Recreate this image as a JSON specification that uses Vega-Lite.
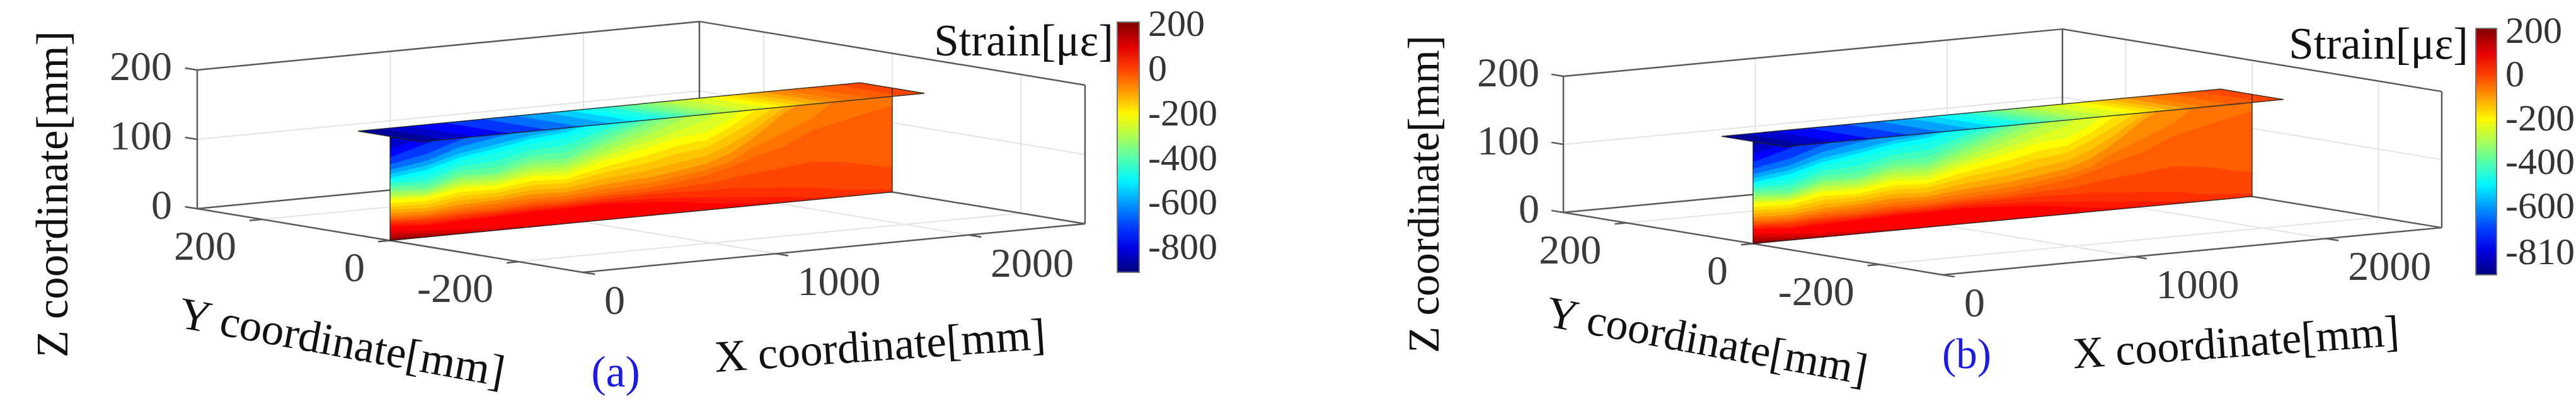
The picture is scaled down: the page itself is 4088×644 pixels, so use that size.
{"$schema":"https://vega.github.io/schema/vega-lite/v6.json","padding":0,"background":"white","spacing":0,"resolve":{"scale":{"fill":"independent"},"legend":{"fill":"independent"}},"config":{"view":{"stroke":null},"text":{"font":"Liberation Serif"},"legend":{"titleFont":"Liberation Serif","labelFont":"Liberation Serif"}},
"datasets":{"g":[
{"kind":"grid","id":"g1","o":1,"X":1000,"Y":-300,"Z":0},{"kind":"grid","id":"g1","o":2,"X":1000,"Y":300,"Z":0},
{"kind":"grid","id":"g2","o":1,"X":2000,"Y":-300,"Z":0},{"kind":"grid","id":"g2","o":2,"X":2000,"Y":300,"Z":0},
{"kind":"grid","id":"g3","o":1,"X":0,"Y":200,"Z":0},{"kind":"grid","id":"g3","o":2,"X":2600,"Y":200,"Z":0},
{"kind":"grid","id":"g4","o":1,"X":0,"Y":0,"Z":0},{"kind":"grid","id":"g4","o":2,"X":2600,"Y":0,"Z":0},
{"kind":"grid","id":"g5","o":1,"X":0,"Y":-200,"Z":0},{"kind":"grid","id":"g5","o":2,"X":2600,"Y":-200,"Z":0},
{"kind":"grid","id":"g6","o":1,"X":1000,"Y":300,"Z":0},{"kind":"grid","id":"g6","o":2,"X":1000,"Y":300,"Z":200},
{"kind":"grid","id":"g7","o":1,"X":2000,"Y":300,"Z":0},{"kind":"grid","id":"g7","o":2,"X":2000,"Y":300,"Z":200},
{"kind":"grid","id":"g8","o":1,"X":0,"Y":300,"Z":100},{"kind":"grid","id":"g8","o":2,"X":2600,"Y":300,"Z":100},
{"kind":"grid","id":"g9","o":1,"X":2600,"Y":200,"Z":0},{"kind":"grid","id":"g9","o":2,"X":2600,"Y":200,"Z":200},
{"kind":"grid","id":"g10","o":1,"X":2600,"Y":0,"Z":0},{"kind":"grid","id":"g10","o":2,"X":2600,"Y":0,"Z":200},
{"kind":"grid","id":"g11","o":1,"X":2600,"Y":-200,"Z":0},{"kind":"grid","id":"g11","o":2,"X":2600,"Y":-200,"Z":200},
{"kind":"grid","id":"g12","o":1,"X":2600,"Y":300,"Z":100},{"kind":"grid","id":"g12","o":2,"X":2600,"Y":-300,"Z":100},
{"kind":"box","id":"b1","o":1,"X":0,"Y":300,"Z":0},{"kind":"box","id":"b1","o":2,"X":0,"Y":300,"Z":200},
{"kind":"box","id":"b2","o":1,"X":0,"Y":300,"Z":0},{"kind":"box","id":"b2","o":2,"X":0,"Y":-300,"Z":0},
{"kind":"box","id":"b3","o":1,"X":0,"Y":-300,"Z":0},{"kind":"box","id":"b3","o":2,"X":2600,"Y":-300,"Z":0},
{"kind":"box","id":"b4","o":1,"X":2600,"Y":-300,"Z":0},{"kind":"box","id":"b4","o":2,"X":2600,"Y":-300,"Z":200},
{"kind":"box","id":"b5","o":1,"X":0,"Y":300,"Z":0},{"kind":"box","id":"b5","o":2,"X":2600,"Y":300,"Z":0},
{"kind":"box","id":"b6","o":1,"X":2600,"Y":300,"Z":0},{"kind":"box","id":"b6","o":2,"X":2600,"Y":-300,"Z":0},
{"kind":"box","id":"b7","o":1,"X":0,"Y":300,"Z":200},{"kind":"box","id":"b7","o":2,"X":2600,"Y":300,"Z":200},
{"kind":"box","id":"b8","o":1,"X":2600,"Y":300,"Z":200},{"kind":"box","id":"b8","o":2,"X":2600,"Y":-300,"Z":200},
{"kind":"box","id":"b9","o":1,"X":2600,"Y":300,"Z":0},{"kind":"box","id":"b9","o":2,"X":2600,"Y":300,"Z":200},
{"kind":"box","id":"t1","o":1,"X":0,"Y":300,"Z":0},{"kind":"box","id":"t1","o":2,"X":0,"Y":319,"Z":0},
{"kind":"box","id":"t2","o":1,"X":0,"Y":300,"Z":100},{"kind":"box","id":"t2","o":2,"X":0,"Y":319,"Z":100},
{"kind":"box","id":"t3","o":1,"X":0,"Y":300,"Z":200},{"kind":"box","id":"t3","o":2,"X":0,"Y":319,"Z":200},
{"kind":"box","id":"t4","o":1,"X":0,"Y":200,"Z":0},{"kind":"box","id":"t4","o":2,"X":-62,"Y":200,"Z":0},
{"kind":"box","id":"t5","o":1,"X":0,"Y":0,"Z":0},{"kind":"box","id":"t5","o":2,"X":-62,"Y":0,"Z":0},
{"kind":"box","id":"t6","o":1,"X":0,"Y":-200,"Z":0},{"kind":"box","id":"t6","o":2,"X":-62,"Y":-200,"Z":0},
{"kind":"box","id":"t7","o":1,"X":0,"Y":-300,"Z":0},{"kind":"box","id":"t7","o":2,"X":0,"Y":-319,"Z":0},
{"kind":"box","id":"t8","o":1,"X":1000,"Y":-300,"Z":0},{"kind":"box","id":"t8","o":2,"X":1000,"Y":-319,"Z":0},
{"kind":"box","id":"t9","o":1,"X":2000,"Y":-300,"Z":0},{"kind":"box","id":"t9","o":2,"X":2000,"Y":-319,"Z":0},
{"kind":"edge","id":"e1","o":1,"X":0,"Y":0,"Z":0},{"kind":"edge","id":"e1","o":2,"X":2600,"Y":0,"Z":0},{"kind":"edge","id":"e1","o":3,"X":2600,"Y":0,"Z":150},
{"kind":"edge","id":"e2","o":1,"X":0,"Y":0,"Z":0},{"kind":"edge","id":"e2","o":2,"X":0,"Y":0,"Z":150},
{"kind":"edge","id":"e3","o":1,"X":0,"Y":50,"Z":150},{"kind":"edge","id":"e3","o":2,"X":2600,"Y":50,"Z":150},{"kind":"edge","id":"e3","o":3,"X":2600,"Y":-50,"Z":150},{"kind":"edge","id":"e3","o":4,"X":0,"Y":-50,"Z":150},{"kind":"edge","id":"e3","o":5,"X":0,"Y":50,"Z":150},
{"kind":"xlab","label":"0","X":0,"Y":-300,"Z":0},{"kind":"xlab","label":"1000","X":1000,"Y":-300,"Z":0},{"kind":"xlab","label":"2000","X":2000,"Y":-300,"Z":0},
{"kind":"ylab","label":"200","X":0,"Y":200,"Z":0},{"kind":"ylab","label":"0","X":0,"Y":0,"Z":0},{"kind":"ylab","label":"-200","X":0,"Y":-200,"Z":0},
{"kind":"zlab","label":"0","X":0,"Y":300,"Z":0},{"kind":"zlab","label":"100","X":0,"Y":300,"Z":100},{"kind":"zlab","label":"200","X":0,"Y":300,"Z":200},
{"kind":"xtitle","label":"X coordinate[mm]","X":1300,"Y":-300,"Z":0},{"kind":"ytitle","label":"Y coordinate[mm]","X":0,"Y":0,"Z":0},{"kind":"ztitle","label":"Z coordinate[mm]","X":0,"Y":300,"Z":100},
{"kind":"ctitle","label":"Strain[με]","X":2600,"Y":-300,"Z":200},
{"kind":"taga","label":"(a)","X":0,"Y":-300,"Z":0},{"kind":"tagb","label":"(b)","X":0,"Y":-300,"Z":0},
{"kind":"web","strain":-880,"X":0,"Z":150},{"kind":"web","strain":-880,"X":2600,"Z":150},
{"kind":"web","strain":-830,"X":0,"Z":145},{"kind":"web","strain":-830,"X":190,"Z":150},{"kind":"web","strain":-830,"X":2600,"Z":150},
{"kind":"web","strain":-770,"X":0,"Z":132},{"kind":"web","strain":-770,"X":190,"Z":145},{"kind":"web","strain":-770,"X":360,"Z":150},{"kind":"web","strain":-770,"X":2600,"Z":150},
{"kind":"web","strain":-710,"X":0,"Z":120},{"kind":"web","strain":-710,"X":190,"Z":135},{"kind":"web","strain":-710,"X":360,"Z":150},{"kind":"web","strain":-710,"X":2600,"Z":150},
{"kind":"web","strain":-650,"X":0,"Z":110},{"kind":"web","strain":-650,"X":190,"Z":120},{"kind":"web","strain":-650,"X":360,"Z":135},{"kind":"web","strain":-650,"X":550,"Z":145},{"kind":"web","strain":-650,"X":730,"Z":150},{"kind":"web","strain":-650,"X":2600,"Z":150},
{"kind":"web","strain":-590,"X":0,"Z":102},{"kind":"web","strain":-590,"X":190,"Z":110},{"kind":"web","strain":-590,"X":360,"Z":125},{"kind":"web","strain":-590,"X":550,"Z":134},{"kind":"web","strain":-590,"X":730,"Z":140},{"kind":"web","strain":-590,"X":910,"Z":146},{"kind":"web","strain":-590,"X":1000,"Z":150},{"kind":"web","strain":-590,"X":2600,"Z":150},
{"kind":"web","strain":-540,"X":0,"Z":96},{"kind":"web","strain":-540,"X":190,"Z":103},{"kind":"web","strain":-540,"X":360,"Z":116},{"kind":"web","strain":-540,"X":550,"Z":124},{"kind":"web","strain":-540,"X":730,"Z":132},{"kind":"web","strain":-540,"X":910,"Z":136},{"kind":"web","strain":-540,"X":1110,"Z":148},{"kind":"web","strain":-540,"X":1180,"Z":150},{"kind":"web","strain":-540,"X":2600,"Z":150},
{"kind":"web","strain":-489,"X":0,"Z":90},{"kind":"web","strain":-489,"X":190,"Z":97},{"kind":"web","strain":-489,"X":360,"Z":110},{"kind":"web","strain":-489,"X":550,"Z":118},{"kind":"web","strain":-489,"X":730,"Z":127},{"kind":"web","strain":-489,"X":910,"Z":131},{"kind":"web","strain":-489,"X":1110,"Z":145},{"kind":"web","strain":-489,"X":1250,"Z":150},{"kind":"web","strain":-489,"X":2600,"Z":150},
{"kind":"web","strain":-460,"X":0,"Z":87},{"kind":"web","strain":-460,"X":190,"Z":90},{"kind":"web","strain":-460,"X":360,"Z":105},{"kind":"web","strain":-460,"X":550,"Z":112},{"kind":"web","strain":-460,"X":730,"Z":120},{"kind":"web","strain":-460,"X":910,"Z":124},{"kind":"web","strain":-460,"X":1110,"Z":139},{"kind":"web","strain":-460,"X":1290,"Z":150},{"kind":"web","strain":-460,"X":2600,"Z":150},
{"kind":"web","strain":-420,"X":0,"Z":82},{"kind":"web","strain":-420,"X":190,"Z":82},{"kind":"web","strain":-420,"X":360,"Z":97},{"kind":"web","strain":-420,"X":550,"Z":100},{"kind":"web","strain":-420,"X":730,"Z":111},{"kind":"web","strain":-420,"X":910,"Z":113},{"kind":"web","strain":-420,"X":1110,"Z":130},{"kind":"web","strain":-420,"X":1340,"Z":146},{"kind":"web","strain":-420,"X":1380,"Z":150},{"kind":"web","strain":-420,"X":2600,"Z":150},
{"kind":"web","strain":-385,"X":0,"Z":78},{"kind":"web","strain":-385,"X":190,"Z":76},{"kind":"web","strain":-385,"X":360,"Z":90},{"kind":"web","strain":-385,"X":550,"Z":91},{"kind":"web","strain":-385,"X":730,"Z":103},{"kind":"web","strain":-385,"X":910,"Z":103},{"kind":"web","strain":-385,"X":1110,"Z":122},{"kind":"web","strain":-385,"X":1340,"Z":140},{"kind":"web","strain":-385,"X":1430,"Z":150},{"kind":"web","strain":-385,"X":2600,"Z":150},
{"kind":"web","strain":-349,"X":0,"Z":74},{"kind":"web","strain":-349,"X":190,"Z":70},{"kind":"web","strain":-349,"X":360,"Z":84},{"kind":"web","strain":-349,"X":550,"Z":83},{"kind":"web","strain":-349,"X":730,"Z":96},{"kind":"web","strain":-349,"X":910,"Z":94},{"kind":"web","strain":-349,"X":1110,"Z":114},{"kind":"web","strain":-349,"X":1340,"Z":135},{"kind":"web","strain":-349,"X":1480,"Z":150},{"kind":"web","strain":-349,"X":2600,"Z":150},
{"kind":"web","strain":-315,"X":0,"Z":70},{"kind":"web","strain":-315,"X":190,"Z":67},{"kind":"web","strain":-315,"X":360,"Z":80},{"kind":"web","strain":-315,"X":550,"Z":79},{"kind":"web","strain":-315,"X":730,"Z":90},{"kind":"web","strain":-315,"X":910,"Z":88},{"kind":"web","strain":-315,"X":1110,"Z":107},{"kind":"web","strain":-315,"X":1340,"Z":126},{"kind":"web","strain":-315,"X":1480,"Z":141},{"kind":"web","strain":-315,"X":1560,"Z":150},{"kind":"web","strain":-315,"X":2600,"Z":150},
{"kind":"web","strain":-280,"X":0,"Z":66},{"kind":"web","strain":-280,"X":190,"Z":63},{"kind":"web","strain":-280,"X":360,"Z":75},{"kind":"web","strain":-280,"X":550,"Z":74},{"kind":"web","strain":-280,"X":730,"Z":84},{"kind":"web","strain":-280,"X":910,"Z":82},{"kind":"web","strain":-280,"X":1110,"Z":99},{"kind":"web","strain":-280,"X":1340,"Z":117},{"kind":"web","strain":-280,"X":1480,"Z":130},{"kind":"web","strain":-280,"X":1640,"Z":150},{"kind":"web","strain":-280,"X":2600,"Z":150},
{"kind":"web","strain":-245,"X":0,"Z":62},{"kind":"web","strain":-245,"X":190,"Z":60},{"kind":"web","strain":-245,"X":360,"Z":70},{"kind":"web","strain":-245,"X":550,"Z":69},{"kind":"web","strain":-245,"X":730,"Z":78},{"kind":"web","strain":-245,"X":910,"Z":76},{"kind":"web","strain":-245,"X":1110,"Z":92},{"kind":"web","strain":-245,"X":1340,"Z":107},{"kind":"web","strain":-245,"X":1480,"Z":118},{"kind":"web","strain":-245,"X":1640,"Z":130},{"kind":"web","strain":-245,"X":1760,"Z":150},{"kind":"web","strain":-245,"X":2600,"Z":150},
{"kind":"web","strain":-209,"X":0,"Z":59},{"kind":"web","strain":-209,"X":190,"Z":57},{"kind":"web","strain":-209,"X":360,"Z":66},{"kind":"web","strain":-209,"X":550,"Z":65},{"kind":"web","strain":-209,"X":730,"Z":73},{"kind":"web","strain":-209,"X":910,"Z":70},{"kind":"web","strain":-209,"X":1110,"Z":85},{"kind":"web","strain":-209,"X":1340,"Z":98},{"kind":"web","strain":-209,"X":1480,"Z":108},{"kind":"web","strain":-209,"X":1640,"Z":112},{"kind":"web","strain":-209,"X":1760,"Z":127},{"kind":"web","strain":-209,"X":1870,"Z":148},{"kind":"web","strain":-209,"X":1900,"Z":150},{"kind":"web","strain":-209,"X":2600,"Z":150},
{"kind":"web","strain":-175,"X":0,"Z":54},{"kind":"web","strain":-175,"X":190,"Z":52},{"kind":"web","strain":-175,"X":360,"Z":60},{"kind":"web","strain":-175,"X":550,"Z":59},{"kind":"web","strain":-175,"X":730,"Z":66},{"kind":"web","strain":-175,"X":910,"Z":64},{"kind":"web","strain":-175,"X":1110,"Z":76},{"kind":"web","strain":-175,"X":1340,"Z":87},{"kind":"web","strain":-175,"X":1480,"Z":96},{"kind":"web","strain":-175,"X":1640,"Z":101},{"kind":"web","strain":-175,"X":1760,"Z":116},{"kind":"web","strain":-175,"X":1870,"Z":134},{"kind":"web","strain":-175,"X":2000,"Z":150},{"kind":"web","strain":-175,"X":2600,"Z":150},
{"kind":"web","strain":-145,"X":0,"Z":49},{"kind":"web","strain":-145,"X":190,"Z":47},{"kind":"web","strain":-145,"X":360,"Z":54},{"kind":"web","strain":-145,"X":550,"Z":54},{"kind":"web","strain":-145,"X":730,"Z":60},{"kind":"web","strain":-145,"X":910,"Z":58},{"kind":"web","strain":-145,"X":1110,"Z":68},{"kind":"web","strain":-145,"X":1340,"Z":76},{"kind":"web","strain":-145,"X":1480,"Z":85},{"kind":"web","strain":-145,"X":1640,"Z":90},{"kind":"web","strain":-145,"X":1760,"Z":105},{"kind":"web","strain":-145,"X":1870,"Z":120},{"kind":"web","strain":-145,"X":2030,"Z":145},{"kind":"web","strain":-145,"X":2060,"Z":150},{"kind":"web","strain":-145,"X":2600,"Z":150},
{"kind":"web","strain":-115,"X":0,"Z":44},{"kind":"web","strain":-115,"X":190,"Z":42},{"kind":"web","strain":-115,"X":360,"Z":48},{"kind":"web","strain":-115,"X":550,"Z":48},{"kind":"web","strain":-115,"X":730,"Z":53},{"kind":"web","strain":-115,"X":910,"Z":51},{"kind":"web","strain":-115,"X":1110,"Z":59},{"kind":"web","strain":-115,"X":1340,"Z":65},{"kind":"web","strain":-115,"X":1480,"Z":72},{"kind":"web","strain":-115,"X":1640,"Z":78},{"kind":"web","strain":-115,"X":1760,"Z":91},{"kind":"web","strain":-115,"X":1870,"Z":107},{"kind":"web","strain":-115,"X":2030,"Z":135},{"kind":"web","strain":-115,"X":2130,"Z":150},{"kind":"web","strain":-115,"X":2600,"Z":150},
{"kind":"web","strain":-80,"X":0,"Z":39},{"kind":"web","strain":-80,"X":190,"Z":37},{"kind":"web","strain":-80,"X":360,"Z":42},{"kind":"web","strain":-80,"X":550,"Z":43},{"kind":"web","strain":-80,"X":730,"Z":47},{"kind":"web","strain":-80,"X":910,"Z":45},{"kind":"web","strain":-80,"X":1110,"Z":51},{"kind":"web","strain":-80,"X":1340,"Z":55},{"kind":"web","strain":-80,"X":1480,"Z":60},{"kind":"web","strain":-80,"X":1640,"Z":67},{"kind":"web","strain":-80,"X":1760,"Z":78},{"kind":"web","strain":-80,"X":1870,"Z":95},{"kind":"web","strain":-80,"X":2030,"Z":127},{"kind":"web","strain":-80,"X":2190,"Z":150},{"kind":"web","strain":-80,"X":2600,"Z":150},
{"kind":"web","strain":-55,"X":0,"Z":35},{"kind":"web","strain":-55,"X":190,"Z":33},{"kind":"web","strain":-55,"X":360,"Z":37},{"kind":"web","strain":-55,"X":550,"Z":38},{"kind":"web","strain":-55,"X":730,"Z":41},{"kind":"web","strain":-55,"X":910,"Z":40},{"kind":"web","strain":-55,"X":1110,"Z":44},{"kind":"web","strain":-55,"X":1340,"Z":47},{"kind":"web","strain":-55,"X":1480,"Z":52},{"kind":"web","strain":-55,"X":1640,"Z":58},{"kind":"web","strain":-55,"X":1760,"Z":66},{"kind":"web","strain":-55,"X":1870,"Z":82},{"kind":"web","strain":-55,"X":2030,"Z":100},{"kind":"web","strain":-55,"X":2190,"Z":118},{"kind":"web","strain":-55,"X":2350,"Z":150},{"kind":"web","strain":-55,"X":2600,"Z":150},
{"kind":"web","strain":-30,"X":0,"Z":32},{"kind":"web","strain":-30,"X":190,"Z":30},{"kind":"web","strain":-30,"X":360,"Z":33},{"kind":"web","strain":-30,"X":550,"Z":33},{"kind":"web","strain":-30,"X":730,"Z":36},{"kind":"web","strain":-30,"X":910,"Z":35},{"kind":"web","strain":-30,"X":1110,"Z":38},{"kind":"web","strain":-30,"X":1340,"Z":40},{"kind":"web","strain":-30,"X":1480,"Z":44},{"kind":"web","strain":-30,"X":1640,"Z":50},{"kind":"web","strain":-30,"X":1760,"Z":58},{"kind":"web","strain":-30,"X":1870,"Z":68},{"kind":"web","strain":-30,"X":2030,"Z":80},{"kind":"web","strain":-30,"X":2190,"Z":100},{"kind":"web","strain":-30,"X":2350,"Z":110},{"kind":"web","strain":-30,"X":2600,"Z":125},
{"kind":"web","strain":-5,"X":0,"Z":29},{"kind":"web","strain":-5,"X":190,"Z":27},{"kind":"web","strain":-5,"X":360,"Z":29},{"kind":"web","strain":-5,"X":550,"Z":29},{"kind":"web","strain":-5,"X":730,"Z":32},{"kind":"web","strain":-5,"X":910,"Z":31},{"kind":"web","strain":-5,"X":1110,"Z":34},{"kind":"web","strain":-5,"X":1340,"Z":34},{"kind":"web","strain":-5,"X":1480,"Z":36},{"kind":"web","strain":-5,"X":1640,"Z":38},{"kind":"web","strain":-5,"X":1760,"Z":42},{"kind":"web","strain":-5,"X":1870,"Z":46},{"kind":"web","strain":-5,"X":2030,"Z":50},{"kind":"web","strain":-5,"X":2190,"Z":55},{"kind":"web","strain":-5,"X":2350,"Z":50},{"kind":"web","strain":-5,"X":2600,"Z":35},
{"kind":"web","strain":20,"X":0,"Z":27},{"kind":"web","strain":20,"X":190,"Z":24},{"kind":"web","strain":20,"X":360,"Z":26},{"kind":"web","strain":20,"X":550,"Z":26},{"kind":"web","strain":20,"X":730,"Z":28},{"kind":"web","strain":20,"X":910,"Z":28},{"kind":"web","strain":20,"X":1110,"Z":30},{"kind":"web","strain":20,"X":1340,"Z":30},{"kind":"web","strain":20,"X":1480,"Z":30},{"kind":"web","strain":20,"X":1640,"Z":28},{"kind":"web","strain":20,"X":1760,"Z":28},{"kind":"web","strain":20,"X":1870,"Z":25},{"kind":"web","strain":20,"X":2030,"Z":22},{"kind":"web","strain":20,"X":2190,"Z":18},{"kind":"web","strain":20,"X":2350,"Z":10},{"kind":"web","strain":20,"X":2600,"Z":4},
{"kind":"web","strain":45,"X":0,"Z":24},{"kind":"web","strain":45,"X":190,"Z":20},{"kind":"web","strain":45,"X":360,"Z":22},{"kind":"web","strain":45,"X":550,"Z":23},{"kind":"web","strain":45,"X":730,"Z":25},{"kind":"web","strain":45,"X":910,"Z":25},{"kind":"web","strain":45,"X":1110,"Z":26},{"kind":"web","strain":45,"X":1340,"Z":24},{"kind":"web","strain":45,"X":1480,"Z":22},{"kind":"web","strain":45,"X":1640,"Z":18},{"kind":"web","strain":45,"X":1760,"Z":15},{"kind":"web","strain":45,"X":1870,"Z":12},{"kind":"web","strain":45,"X":2030,"Z":8},{"kind":"web","strain":45,"X":2190,"Z":3},{"kind":"web","strain":45,"X":2350,"Z":0},{"kind":"web","strain":45,"X":2600,"Z":0},
{"kind":"web","strain":72,"X":0,"Z":21},{"kind":"web","strain":72,"X":190,"Z":17},{"kind":"web","strain":72,"X":360,"Z":19},{"kind":"web","strain":72,"X":550,"Z":20},{"kind":"web","strain":72,"X":730,"Z":22},{"kind":"web","strain":72,"X":910,"Z":22},{"kind":"web","strain":72,"X":1110,"Z":23},{"kind":"web","strain":72,"X":1340,"Z":19},{"kind":"web","strain":72,"X":1480,"Z":16},{"kind":"web","strain":72,"X":1640,"Z":10},{"kind":"web","strain":72,"X":1760,"Z":6},{"kind":"web","strain":72,"X":1870,"Z":3},{"kind":"web","strain":72,"X":2030,"Z":0},{"kind":"web","strain":72,"X":2600,"Z":0},
{"kind":"web","strain":110,"X":0,"Z":14},{"kind":"web","strain":110,"X":190,"Z":9},{"kind":"web","strain":110,"X":360,"Z":6},{"kind":"web","strain":110,"X":550,"Z":4},{"kind":"web","strain":110,"X":730,"Z":2},{"kind":"web","strain":110,"X":910,"Z":0},{"kind":"web","strain":110,"X":2600,"Z":0},
{"kind":"web","strain":150,"X":0,"Z":9},{"kind":"web","strain":150,"X":190,"Z":5},{"kind":"web","strain":150,"X":360,"Z":2},{"kind":"web","strain":150,"X":550,"Z":0},{"kind":"web","strain":150,"X":2600,"Z":0},
{"kind":"web","strain":190,"X":0,"Z":4},{"kind":"web","strain":190,"X":190,"Z":1},{"kind":"web","strain":190,"X":360,"Z":0},{"kind":"web","strain":190,"X":2600,"Z":0},
{"kind":"fl","strain":-880,"o":1,"X":0,"Y":50,"Z":150},{"kind":"fl","strain":-880,"o":2,"X":2600,"Y":50,"Z":150},{"kind":"fl","strain":-880,"o":3,"X":2600,"Y":-50,"Z":150},{"kind":"fl","strain":-880,"o":4,"X":0,"Y":-50,"Z":150},
{"kind":"fl","strain":-830,"o":1,"X":120,"Y":50,"Z":150},{"kind":"fl","strain":-830,"o":2,"X":2600,"Y":50,"Z":150},{"kind":"fl","strain":-830,"o":3,"X":2600,"Y":-50,"Z":150},{"kind":"fl","strain":-830,"o":4,"X":120,"Y":-50,"Z":150},
{"kind":"fl","strain":-770,"o":1,"X":270,"Y":50,"Z":150},{"kind":"fl","strain":-770,"o":2,"X":2600,"Y":50,"Z":150},{"kind":"fl","strain":-770,"o":3,"X":2600,"Y":-50,"Z":150},{"kind":"fl","strain":-770,"o":4,"X":270,"Y":-50,"Z":150},
{"kind":"fl","strain":-710,"o":1,"X":450,"Y":50,"Z":150},{"kind":"fl","strain":-710,"o":2,"X":2600,"Y":50,"Z":150},{"kind":"fl","strain":-710,"o":3,"X":2600,"Y":-50,"Z":150},{"kind":"fl","strain":-710,"o":4,"X":450,"Y":-50,"Z":150},
{"kind":"fl","strain":-650,"o":1,"X":650,"Y":50,"Z":150},{"kind":"fl","strain":-650,"o":2,"X":2600,"Y":50,"Z":150},{"kind":"fl","strain":-650,"o":3,"X":2600,"Y":-50,"Z":150},{"kind":"fl","strain":-650,"o":4,"X":650,"Y":-50,"Z":150},
{"kind":"fl","strain":-590,"o":1,"X":820,"Y":50,"Z":150},{"kind":"fl","strain":-590,"o":2,"X":2600,"Y":50,"Z":150},{"kind":"fl","strain":-590,"o":3,"X":2600,"Y":-50,"Z":150},{"kind":"fl","strain":-590,"o":4,"X":820,"Y":-50,"Z":150},
{"kind":"fl","strain":-540,"o":1,"X":980,"Y":50,"Z":150},{"kind":"fl","strain":-540,"o":2,"X":2600,"Y":50,"Z":150},{"kind":"fl","strain":-540,"o":3,"X":2600,"Y":-50,"Z":150},{"kind":"fl","strain":-540,"o":4,"X":980,"Y":-50,"Z":150},
{"kind":"fl","strain":-489,"o":1,"X":1100,"Y":50,"Z":150},{"kind":"fl","strain":-489,"o":2,"X":2600,"Y":50,"Z":150},{"kind":"fl","strain":-489,"o":3,"X":2600,"Y":-50,"Z":150},{"kind":"fl","strain":-489,"o":4,"X":1100,"Y":-50,"Z":150},
{"kind":"fl","strain":-460,"o":1,"X":1180,"Y":50,"Z":150},{"kind":"fl","strain":-460,"o":2,"X":2600,"Y":50,"Z":150},{"kind":"fl","strain":-460,"o":3,"X":2600,"Y":-50,"Z":150},{"kind":"fl","strain":-460,"o":4,"X":1180,"Y":-50,"Z":150},
{"kind":"fl","strain":-420,"o":1,"X":1280,"Y":50,"Z":150},{"kind":"fl","strain":-420,"o":2,"X":2600,"Y":50,"Z":150},{"kind":"fl","strain":-420,"o":3,"X":2600,"Y":-50,"Z":150},{"kind":"fl","strain":-420,"o":4,"X":1280,"Y":-50,"Z":150},
{"kind":"fl","strain":-385,"o":1,"X":1350,"Y":50,"Z":150},{"kind":"fl","strain":-385,"o":2,"X":2600,"Y":50,"Z":150},{"kind":"fl","strain":-385,"o":3,"X":2600,"Y":-50,"Z":150},{"kind":"fl","strain":-385,"o":4,"X":1350,"Y":-50,"Z":150},
{"kind":"fl","strain":-349,"o":1,"X":1420,"Y":50,"Z":150},{"kind":"fl","strain":-349,"o":2,"X":2600,"Y":50,"Z":150},{"kind":"fl","strain":-349,"o":3,"X":2600,"Y":-50,"Z":150},{"kind":"fl","strain":-349,"o":4,"X":1420,"Y":-50,"Z":150},
{"kind":"fl","strain":-315,"o":1,"X":1500,"Y":50,"Z":150},{"kind":"fl","strain":-315,"o":2,"X":2600,"Y":50,"Z":150},{"kind":"fl","strain":-315,"o":3,"X":2600,"Y":-50,"Z":150},{"kind":"fl","strain":-315,"o":4,"X":1500,"Y":-50,"Z":150},
{"kind":"fl","strain":-280,"o":1,"X":1570,"Y":50,"Z":150},{"kind":"fl","strain":-280,"o":2,"X":2600,"Y":50,"Z":150},{"kind":"fl","strain":-280,"o":3,"X":2600,"Y":-50,"Z":150},{"kind":"fl","strain":-280,"o":4,"X":1570,"Y":-50,"Z":150},
{"kind":"fl","strain":-245,"o":1,"X":1680,"Y":50,"Z":150},{"kind":"fl","strain":-245,"o":2,"X":2600,"Y":50,"Z":150},{"kind":"fl","strain":-245,"o":3,"X":2600,"Y":-50,"Z":150},{"kind":"fl","strain":-245,"o":4,"X":1680,"Y":-50,"Z":150},
{"kind":"fl","strain":-209,"o":1,"X":1800,"Y":50,"Z":150},{"kind":"fl","strain":-209,"o":2,"X":2600,"Y":50,"Z":150},{"kind":"fl","strain":-209,"o":3,"X":2600,"Y":-50,"Z":150},{"kind":"fl","strain":-209,"o":4,"X":1800,"Y":-50,"Z":150},
{"kind":"fl","strain":-175,"o":1,"X":1880,"Y":50,"Z":150},{"kind":"fl","strain":-175,"o":2,"X":2600,"Y":50,"Z":150},{"kind":"fl","strain":-175,"o":3,"X":2600,"Y":-50,"Z":150},{"kind":"fl","strain":-175,"o":4,"X":1880,"Y":-50,"Z":150},
{"kind":"fl","strain":-145,"o":1,"X":1950,"Y":50,"Z":150},{"kind":"fl","strain":-145,"o":2,"X":2600,"Y":50,"Z":150},{"kind":"fl","strain":-145,"o":3,"X":2600,"Y":-50,"Z":150},{"kind":"fl","strain":-145,"o":4,"X":1950,"Y":-50,"Z":150},
{"kind":"fl","strain":-115,"o":1,"X":2020,"Y":50,"Z":150},{"kind":"fl","strain":-115,"o":2,"X":2600,"Y":50,"Z":150},{"kind":"fl","strain":-115,"o":3,"X":2600,"Y":-50,"Z":150},{"kind":"fl","strain":-115,"o":4,"X":2020,"Y":-50,"Z":150},
{"kind":"fl","strain":-80,"o":1,"X":2100,"Y":50,"Z":150},{"kind":"fl","strain":-80,"o":2,"X":2600,"Y":50,"Z":150},{"kind":"fl","strain":-80,"o":3,"X":2600,"Y":-50,"Z":150},{"kind":"fl","strain":-80,"o":4,"X":2100,"Y":-50,"Z":150},
{"kind":"fl","strain":-55,"o":1,"X":2200,"Y":50,"Z":150},{"kind":"fl","strain":-55,"o":2,"X":2600,"Y":50,"Z":150},{"kind":"fl","strain":-55,"o":3,"X":2600,"Y":-50,"Z":150},{"kind":"fl","strain":-55,"o":4,"X":2200,"Y":-50,"Z":150},
{"kind":"fl","strain":-30,"o":1,"X":2330,"Y":50,"Z":150},{"kind":"fl","strain":-30,"o":2,"X":2600,"Y":50,"Z":150},{"kind":"fl","strain":-30,"o":3,"X":2600,"Y":-50,"Z":150},{"kind":"fl","strain":-30,"o":4,"X":2330,"Y":-50,"Z":150},
{"kind":"fl","strain":-5,"o":1,"X":2480,"Y":50,"Z":150},{"kind":"fl","strain":-5,"o":2,"X":2600,"Y":50,"Z":150},{"kind":"fl","strain":-5,"o":3,"X":2600,"Y":-50,"Z":150},{"kind":"fl","strain":-5,"o":4,"X":2480,"Y":-50,"Z":150}
]},
"hconcat":[
{"width":2044,"height":644,"data":{"name":"g"},
"transform":[{"calculate":"619+0.3065*datum.X-1.02*(datum.Y||0)","as":"sx"},{"calculate":"381.5-0.0296*datum.X-0.168*(datum.Y||0)","as":"sy0"},{"calculate":"datum.sy0-1.1*(datum.Z||0)","as":"sy"}],
"encoding":{"x":{"field":"sx","type":"quantitative","scale":{"domain":[0,2044]},"axis":null},"y":{"field":"sy","type":"quantitative","scale":{"domain":[644,0]},"axis":null}},
"layer":[
{"transform":[{"filter":"datum.kind=='grid'"}],"mark":{"type":"line","stroke":"#e4e4e4","strokeWidth":2},"encoding":{"detail":{"field":"id"},"order":{"field":"o"}}},
{"transform":[{"filter":"datum.kind=='box'"}],"mark":{"type":"line","stroke":"#5a5a5a","strokeWidth":2.5},"encoding":{"detail":{"field":"id"},"order":{"field":"o"}}},
{"transform":[{"filter":"datum.kind=='web'"}],"mark":{"type":"area"},"encoding":{"y2":{"field":"sy0"},"detail":{"field":"strain","type":"nominal"},"fill":{"field":"strain","type":"quantitative","scale":{"domain":[-910,-770,-489,-209,72,212],"range":["#00007f","#0000ff","#00ffff","#ffff00","#ff0000","#7f0000"],"interpolate":"rgb"},"legend":{"orient":"none","legendX":1773,"legendY":35,"title":null,"gradientLength":397,"gradientThickness":35,"gradientStrokeColor":"#777777","gradientStrokeWidth":2,"labelFontSize":60,"labelColor":"#333333","labelOffset":14,"labelOverlap":false,"values":[200,0,-200,-400,-600,-800],"labelExpr":"''+datum.value"}}}},
{"transform":[{"filter":"datum.kind=='fl'"}],"mark":{"type":"line","strokeWidth":0},"encoding":{"detail":{"field":"strain","type":"nominal"},"order":{"field":"o"},"fill":{"field":"strain","type":"quantitative"}}},
{"transform":[{"filter":"datum.kind=='edge'"}],"mark":{"type":"line","stroke":"#222222","strokeWidth":1.5,"opacity":0.85},"encoding":{"detail":{"field":"id"},"order":{"field":"o"}}},
{"transform":[{"filter":"datum.kind=='xlab'"}],"mark":{"type":"text","fontSize":66,"align":"left","baseline":"middle","dx":34,"dy":46,"fill":"#3a3a3a"},"encoding":{"text":{"field":"label"}}},
{"transform":[{"filter":"datum.kind=='ylab'"}],"mark":{"type":"text","fontSize":66,"align":"right","baseline":"middle","dx":-40,"dy":44,"fill":"#3a3a3a"},"encoding":{"text":{"field":"label"}}},
{"transform":[{"filter":"datum.kind=='zlab'"}],"mark":{"type":"text","fontSize":66,"align":"right","baseline":"middle","dx":-40,"dy":-4,"fill":"#3a3a3a"},"encoding":{"text":{"field":"label"}}},
{"transform":[{"filter":"datum.kind=='ztitle'"}],"mark":{"type":"text","fontSize":71,"align":"center","baseline":"alphabetic","angle":270,"dx":-87,"dy":-206,"fill":"#111111"},"encoding":{"text":{"field":"label"}}},
{"transform":[{"filter":"datum.kind=='ytitle'"}],"mark":{"type":"text","fontSize":71,"align":"center","baseline":"alphabetic","angle":10.4,"dx":-46,"dy":196,"fill":"#111111"},"encoding":{"text":{"field":"label"}}},
{"transform":[{"filter":"datum.kind=='xtitle'"}],"mark":{"type":"text","fontSize":71,"align":"center","baseline":"alphabetic","angle":356,"dx":62,"dy":183,"fill":"#111111"},"encoding":{"text":{"field":"label"}}},
{"transform":[{"filter":"datum.kind=='ctitle'"}],"mark":{"type":"text","fontSize":71,"align":"right","baseline":"alphabetic","dx":45,"dy":-47,"fill":"#111111"},"encoding":{"text":{"field":"label"}}},
{"transform":[{"filter":"datum.kind=='taga'"}],"mark":{"type":"text","fontSize":70,"align":"center","baseline":"alphabetic","dx":52,"dy":181,"fill":"#1a1aee"},"encoding":{"text":{"field":"label"}}}
]},
{"width":2044,"height":644,"data":{"name":"g"},
"transform":[{"calculate":"738+0.3046*datum.X-1.0033*(datum.Y||0)","as":"sx"},{"calculate":"386.5-0.0288*datum.X-0.165*(datum.Y||0)","as":"sy0"},{"calculate":"datum.sy0-1.08*(datum.Z||0)","as":"sy"}],
"encoding":{"x":{"field":"sx","type":"quantitative","scale":{"domain":[0,2044]},"axis":null},"y":{"field":"sy","type":"quantitative","scale":{"domain":[644,0]},"axis":null}},
"layer":[
{"transform":[{"filter":"datum.kind=='grid'"}],"mark":{"type":"line","stroke":"#e4e4e4","strokeWidth":2},"encoding":{"detail":{"field":"id"},"order":{"field":"o"}}},
{"transform":[{"filter":"datum.kind=='box'"}],"mark":{"type":"line","stroke":"#5a5a5a","strokeWidth":2.5},"encoding":{"detail":{"field":"id"},"order":{"field":"o"}}},
{"transform":[{"filter":"datum.kind=='web'"}],"mark":{"type":"area"},"encoding":{"y2":{"field":"sy0"},"detail":{"field":"strain","type":"nominal"},"fill":{"field":"strain","type":"quantitative","scale":{"domain":[-912,-771,-490,-209,72,213],"range":["#00007f","#0000ff","#00ffff","#ffff00","#ff0000","#7f0000"],"interpolate":"rgb"},"legend":{"orient":"none","legendX":1885,"legendY":45,"title":null,"gradientLength":391,"gradientThickness":33,"gradientStrokeColor":"#777777","gradientStrokeWidth":2,"labelFontSize":60,"labelColor":"#333333","labelOffset":14,"labelOverlap":false,"values":[200,0,-200,-400,-600,-810],"labelExpr":"''+datum.value"}}}},
{"transform":[{"filter":"datum.kind=='fl'"}],"mark":{"type":"line","strokeWidth":0},"encoding":{"detail":{"field":"strain","type":"nominal"},"order":{"field":"o"},"fill":{"field":"strain","type":"quantitative"}}},
{"transform":[{"filter":"datum.kind=='edge'"}],"mark":{"type":"line","stroke":"#222222","strokeWidth":1.5,"opacity":0.85},"encoding":{"detail":{"field":"id"},"order":{"field":"o"}}},
{"transform":[{"filter":"datum.kind=='xlab'"}],"mark":{"type":"text","fontSize":66,"align":"left","baseline":"middle","dx":34,"dy":46,"fill":"#3a3a3a"},"encoding":{"text":{"field":"label"}}},
{"transform":[{"filter":"datum.kind=='ylab'"}],"mark":{"type":"text","fontSize":66,"align":"right","baseline":"middle","dx":-40,"dy":44,"fill":"#3a3a3a"},"encoding":{"text":{"field":"label"}}},
{"transform":[{"filter":"datum.kind=='zlab'"}],"mark":{"type":"text","fontSize":66,"align":"right","baseline":"middle","dx":-38,"dy":-4,"fill":"#3a3a3a"},"encoding":{"text":{"field":"label"}}},
{"transform":[{"filter":"datum.kind=='ztitle'"}],"mark":{"type":"text","fontSize":69,"align":"center","baseline":"alphabetic","angle":270,"dx":-79,"dy":-198,"fill":"#111111"},"encoding":{"text":{"field":"label"}}},
{"transform":[{"filter":"datum.kind=='ytitle'"}],"mark":{"type":"text","fontSize":70,"align":"center","baseline":"alphabetic","angle":10.4,"dx":-44,"dy":188,"fill":"#111111"},"encoding":{"text":{"field":"label"}}},
{"transform":[{"filter":"datum.kind=='xtitle'"}],"mark":{"type":"text","fontSize":70,"align":"center","baseline":"alphabetic","angle":356,"dx":59,"dy":172,"fill":"#111111"},"encoding":{"text":{"field":"label"}}},
{"transform":[{"filter":"datum.kind=='ctitle'"}],"mark":{"type":"text","fontSize":71,"align":"right","baseline":"alphabetic","dx":42,"dy":-52,"fill":"#111111"},"encoding":{"text":{"field":"label"}}},
{"transform":[{"filter":"datum.kind=='tagb'"}],"mark":{"type":"text","fontSize":67,"align":"center","baseline":"alphabetic","dx":38,"dy":148,"fill":"#1a1aee"},"encoding":{"text":{"field":"label"}}}
]}
]}
